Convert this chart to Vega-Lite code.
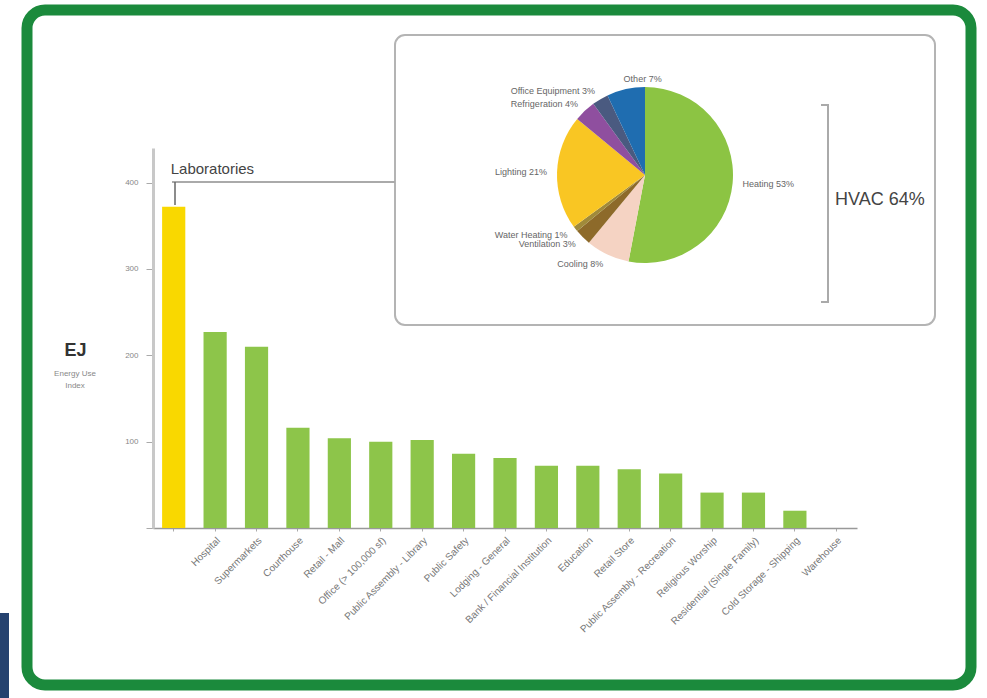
{
  "$schema": "https://vega.github.io/schema/vega-lite/v6.json",
  "width": 704,
  "height": 380,
  "autosize": "none",
  "padding": {"left": 153, "top": 148, "right": 130, "bottom": 170},
  "background": "white",
  "config": {
    "view": {"stroke": null},
    "font": "Liberation Sans",
    "axis": {"zindex": 1}
  },
  "datasets": {
    "bars": [
      {"category": "Laboratories", "eui": 372},
      {"category": "Hospital", "eui": 227},
      {"category": "Supermarkets", "eui": 210},
      {"category": "Courthouse", "eui": 116},
      {"category": "Retail - Mall", "eui": 104},
      {"category": "Office (> 100,000 sf)", "eui": 100},
      {"category": "Public Assembly - Library", "eui": 102},
      {"category": "Public Safety", "eui": 86},
      {"category": "Lodging - General", "eui": 81},
      {"category": "Bank / Financial Institution", "eui": 72},
      {"category": "Education", "eui": 72},
      {"category": "Retail Store", "eui": 68},
      {"category": "Public Assembly - Recreation", "eui": 63},
      {"category": "Religious Worship", "eui": 41},
      {"category": "Residential (Single Family)", "eui": 41},
      {"category": "Cold Storage - Shipping", "eui": 20},
      {"category": "Warehouse", "eui": 0}
    ],
    "pie": [
      {"rank": 1, "use": "Heating", "pct": 53, "label": "Heating 53%"},
      {"rank": 2, "use": "Cooling", "pct": 8, "label": "Cooling 8%"},
      {"rank": 3, "use": "Ventilation", "pct": 3, "label": "Ventilation 3%"},
      {"rank": 4, "use": "Water Heating", "pct": 1, "label": "Water Heating 1%"},
      {"rank": 5, "use": "Lighting", "pct": 21, "label": "Lighting 21%"},
      {"rank": 6, "use": "Refrigeration", "pct": 4, "label": "Refrigeration 4%"},
      {"rank": 7, "use": "Office Equipment", "pct": 3, "label": "Office Equipment 3%"},
      {"rank": 8, "use": "Other", "pct": 7, "label": "Other 7%"}
    ]
  },
  "layer": [
    {
      "data": {"values": [{}]},
      "mark": {"type": "rect", "fill": "#25426f"},
      "encoding": {"x": {"value": -153}, "x2": {"value": -144}, "y": {"value": 465}, "y2": {"value": 550}}
    },
    {
      "data": {"values": [{}]},
      "mark": {"type": "rect", "fill": "transparent", "stroke": "#1b8a3c", "strokeWidth": 11, "cornerRadius": 18},
      "encoding": {"x": {"value": -126}, "x2": {"value": 818}, "y": {"value": -138}, "y2": {"value": 537}}
    },
    {
      "data": {"values": [{}]},
      "mark": {"type": "rect", "fill": "transparent", "stroke": "#b4b4b4", "strokeWidth": 2, "cornerRadius": 10},
      "encoding": {"x": {"value": 242}, "x2": {"value": 782}, "y": {"value": -113}, "y2": {"value": 177}}
    },
    {
      "data": {"values": [{}]},
      "mark": {"type": "rule", "stroke": "#aaaaaa", "strokeWidth": 2},
      "encoding": {"x": {"value": 19}, "x2": {"value": 242}, "y": {"value": 34}, "y2": {"value": 34}}
    },
    {
      "data": {"values": [{}]},
      "mark": {"type": "rule", "stroke": "#666666", "strokeWidth": 1.5},
      "encoding": {"x": {"value": 22}, "x2": {"value": 22}, "y": {"value": 34}, "y2": {"value": 57}}
    },
    {
      "data": {"name": "bars"},
      "mark": {"type": "bar"},
      "encoding": {
        "x": {
          "field": "category", "type": "nominal", "sort": null,
          "scale": {"paddingInner": 0.44, "paddingOuter": 0.22},
          "axis": {
            "title": null, "labelAngle": -45, "labelFontSize": 10, "labelColor": "#777777",
            "labelExpr": "datum.value == 'Laboratories' ? '' : datum.label",
            "domainColor": "#999999", "domainWidth": 1.5, "tickSize": 3, "tickColor": "#aaaaaa", "labelPadding": 4, "labelLimit": 300
          }
        },
        "y": {
          "field": "eui", "type": "quantitative",
          "scale": {"domain": [0, 440], "nice": false},
          "axis": {
            "title": "EJ", "titleAngle": 0, "titleFontSize": 18, "titleFontWeight": "bold", "titleColor": "#333333",
            "titleX": -78, "titleY": 207, "titleAlign": "center", "titleBaseline": "alphabetic",
            "values": [0, 100, 200, 300, 400], "labelExpr": "datum.value == 0 ? '' : datum.label",
            "labelFontSize": 8, "labelColor": "#888888", "grid": false,
            "domainColor": "#c8c8c8", "domainWidth": 3, "tickColor": "#aaaaaa", "tickSize": 7, "labelPadding": 8
          }
        },
        "color": {
          "condition": {"test": "datum.category === 'Laboratories'", "value": "#f9d800"},
          "value": "#8dc54a"
        }
      }
    },
    {
      "data": {"name": "bars"},
      "transform": [{"filter": "datum.category === 'Laboratories'"}],
      "mark": {"type": "text", "align": "left", "baseline": "alphabetic", "dx": -3, "dy": -33, "fontSize": 15, "color": "#444444"},
      "encoding": {
        "x": {"field": "category", "type": "nominal", "sort": null},
        "y": {"field": "eui", "type": "quantitative"},
        "text": {"value": "Laboratories"}
      }
    },
    {
      "data": {"values": [{}]},
      "mark": {"type": "text", "align": "center", "baseline": "top", "fontSize": 8, "lineHeight": 12, "color": "#888888"},
      "encoding": {"x": {"value": -78}, "y": {"value": 222}, "text": {"value": ["Energy Use", "Index"]}}
    },
    {
      "data": {"name": "pie"},
      "mark": {"type": "arc", "x": 492, "y": 27, "radius": 88},
      "encoding": {
        "theta": {"field": "pct", "type": "quantitative", "stack": true},
        "order": {"field": "rank", "type": "quantitative"},
        "color": {
          "field": "use", "type": "nominal", "legend": null,
          "scale": {
            "domain": ["Heating", "Cooling", "Ventilation", "Water Heating", "Lighting", "Refrigeration", "Office Equipment", "Other"],
            "range": ["#8cc443", "#f5d3c3", "#8d6a2a", "#a08a3a", "#f9c623", "#8f4f9f", "#4a5a80", "#1f6db0"]
          }
        }
      }
    },
    {
      "data": {"name": "pie"},
      "mark": {"type": "text", "x": 492, "y": 27, "radius": 98, "align": "right", "baseline": "middle", "fontSize": 9, "color": "#666666"},
      "encoding": {
        "theta": {"field": "pct", "type": "quantitative", "stack": true},
        "order": {"field": "rank", "type": "quantitative"},
        "text": {"condition": {"test": "datum.use !== 'Heating' && datum.use !== 'Other'", "field": "label"}, "value": ""}
      }
    },
    {
      "data": {"name": "pie"},
      "mark": {"type": "text", "x": 492, "y": 27, "radius": 98, "align": "left", "baseline": "middle", "fontSize": 9, "color": "#666666"},
      "encoding": {
        "theta": {"field": "pct", "type": "quantitative", "stack": true},
        "order": {"field": "rank", "type": "quantitative"},
        "text": {"condition": {"test": "datum.use === 'Heating' || datum.use === 'Other'", "field": "label"}, "value": ""}
      }
    },
    {
      "data": {"values": [{}]},
      "mark": {"type": "rule", "stroke": "#aaaaaa", "strokeWidth": 2},
      "encoding": {"x": {"value": 675}, "x2": {"value": 675}, "y": {"value": -43}, "y2": {"value": 154}}
    },
    {
      "data": {"values": [{}]},
      "mark": {"type": "rule", "stroke": "#aaaaaa", "strokeWidth": 2},
      "encoding": {"x": {"value": 668}, "x2": {"value": 676}, "y": {"value": -43}, "y2": {"value": -43}}
    },
    {
      "data": {"values": [{}]},
      "mark": {"type": "rule", "stroke": "#aaaaaa", "strokeWidth": 2},
      "encoding": {"x": {"value": 668}, "x2": {"value": 676}, "y": {"value": 154}, "y2": {"value": 154}}
    },
    {
      "data": {"values": [{}]},
      "mark": {"type": "text", "align": "left", "baseline": "middle", "fontSize": 18, "color": "#444444"},
      "encoding": {"x": {"value": 682}, "y": {"value": 52}, "text": {"value": "HVAC 64%"}}
    }
  ]
}
